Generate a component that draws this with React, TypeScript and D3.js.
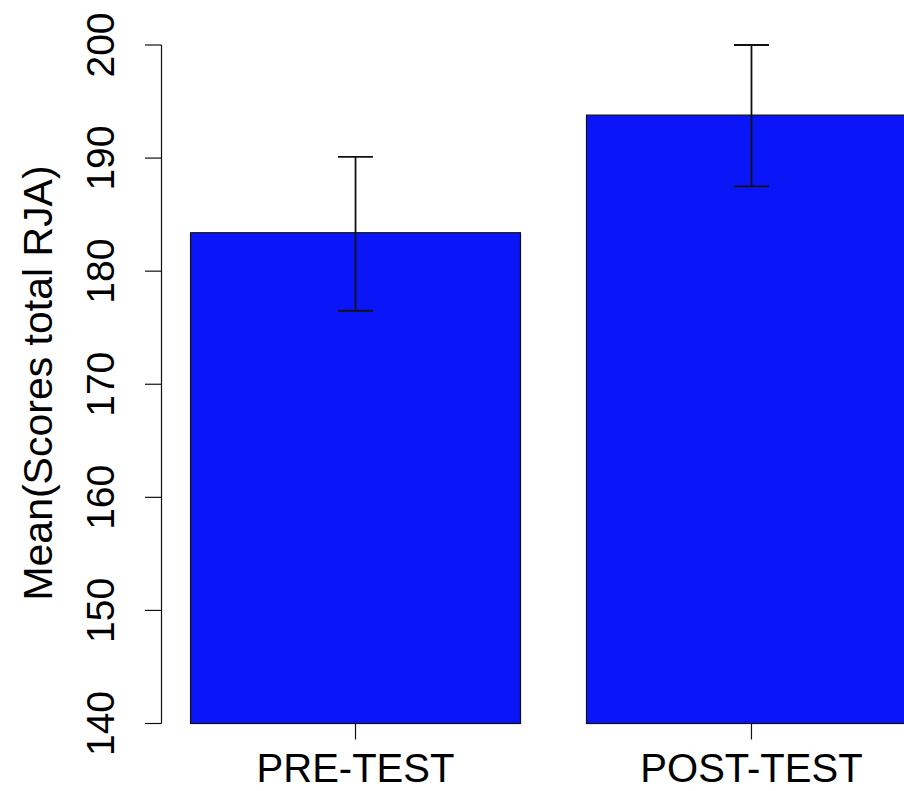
import React from 'react';
import * as d3 from 'd3';

// values
const groups = ['PRE-TEST', 'POST-TEST'];
const means = [183.4, 193.8];
const errLow = [176.5, 187.5];
const errHigh = [190.1, 200.0];
const yTicks = [140, 150, 160, 170, 180, 190, 200];

const W = 904;
const H = 791;

const App = () => {
  // R barplot style units: width 1, space 0.2 -> bars at [0.2,1.2] and [1.4,2.4]
  const x = d3.scaleLinear().domain([0.112, 2.488]).range([161.5, 945.5]);
  const y = d3.scaleLinear().domain([140, 200]).range([723.5, 45]);
  const fontFam = 'Arial, "Liberation Sans", Helvetica, sans-serif';
  const capW = 35;

  return (
    <svg width={W} height={H} style={{ position: 'absolute', left: 0, top: 0, background: '#fff' }}>
      {groups.map((g, i) => {
        const left = 0.2 + i * 1.2;
        const cx = x(left + 0.5);
        return (
          <g key={g}>
            <rect
              x={x(left)}
              y={y(means[i])}
              width={x(left + 1) - x(left)}
              height={y(140) - y(means[i])}
              fill="#0a16f8"
              stroke="#111"
              strokeWidth={1.2}
            />
            <line x1={cx} x2={cx} y1={y(errLow[i])} y2={y(errHigh[i])} stroke="#111" strokeWidth={1.8} />
            <line x1={cx - capW / 2} x2={cx + capW / 2} y1={y(errHigh[i])} y2={y(errHigh[i])} stroke="#111" strokeWidth={1.8} />
            <line x1={cx - capW / 2} x2={cx + capW / 2} y1={y(errLow[i])} y2={y(errLow[i])} stroke="#111" strokeWidth={1.8} />
            <line x1={cx} x2={cx} y1={y(140)} y2={y(140) + 16} stroke="#111" strokeWidth={1.2} />
            <text x={cx} y={782} textAnchor="middle" fontFamily={fontFam} fontSize={40} fill="#000">
              {g}
            </text>
          </g>
        );
      })}

      {/* y axis */}
      <line x1={161.5} x2={161.5} y1={y(140)} y2={y(200)} stroke="#111" strokeWidth={1.2} />
      {yTicks.map(t => (
        <g key={t}>
          <line x1={145} x2={161.5} y1={y(t)} y2={y(t)} stroke="#111" strokeWidth={1.2} />
          <text
            transform={`translate(114,${y(t)}) rotate(-90)`}
            textAnchor="middle"
            fontFamily={fontFam}
            fontSize={39}
            fill="#000"
          >
            {t}
          </text>
        </g>
      ))}
      <text
        transform={`translate(52,383) rotate(-90)`}
        textAnchor="middle"
        fontFamily={fontFam}
        fontSize={41}
        fill="#000"
      >
        Mean(Scores total RJA)
      </text>
    </svg>
  );
};

export default App;
